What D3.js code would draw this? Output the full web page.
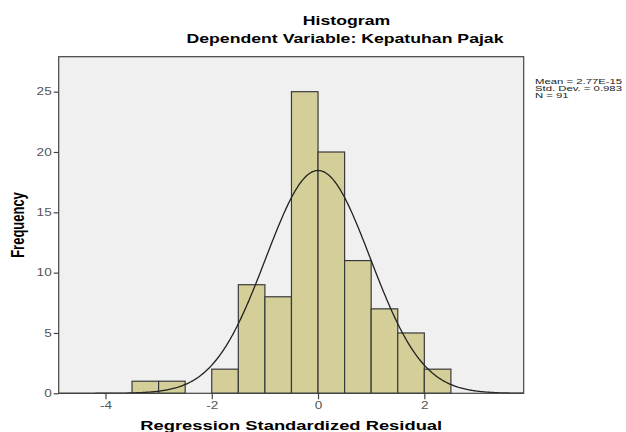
<!DOCTYPE html>
<html>
<head>
<meta charset="utf-8">
<script src="https://cdn.jsdelivr.net/npm/d3@7"></script>
<style>
  body { margin: 0; background: #fff; }
  text { font-family: "Liberation Sans", Arial, sans-serif; }
</style>
</head>
<body>
<svg id="chart" width="626" height="432"></svg>
<script>
// bins of 0.5 width, start edges
let binStarts = [-3.5, -3.0, -2.5, -2.0, -1.5, -1.0, -0.5, 0.0, 0.5, 1.0, 1.5, 2.0]
let binCounts = [1, 1, 0, 2, 9, 8, 25, 20, 11, 7, 5, 2]
let binWidth = 0.5
let xTicks = [-4, -2, 0, 2]
let yTicks = [0, 5, 10, 15, 20, 25]
let statLines = ["Mean = 2.77E-15", "Std. Dev. = 0.983", "N = 91"]
let mean = 2.77e-15, sd = 0.983, n = 91

let svg = d3.select("#chart")
let pLeft = 58.7, pRight = 523.7, pTop = 56.7, pBottom = 393.3
let sx = 1.36  // the source picture is stretched sideways

let x = d3.scaleLinear().domain([-4.88, 3.87]).range([pLeft, pRight])
let y = d3.scaleLinear().domain([0, 27.9]).range([pBottom, pTop])

svg.append("rect")
    .attr("x", pLeft).attr("y", pTop)
    .attr("width", pRight - pLeft).attr("height", pBottom - pTop)
    .attr("fill", "#f0f0f0")

svg.selectAll("rect.bar")
    .data(binStarts.map((s, i) => ({s: s, c: binCounts[i]})).filter(d => d.c > 0))
    .enter()
    .append("rect")
    .attr("class", "bar")
    .attr("x", d => x(d.s))
    .attr("y", d => y(d.c))
    .attr("width", d => x(d.s + binWidth) - x(d.s))
    .attr("height", d => y(0) - y(d.c))
    .attr("fill", "#d4cf98")
    .attr("stroke", "#3a3a3a")
    .attr("stroke-width", 1.2)

// fitted normal curve from the reported stats
let curve = d3.range(-4.88, 3.87, 0.02).map(v => [v, n * binWidth / (sd * Math.sqrt(2 * Math.PI)) * Math.exp(-0.5 * ((v - mean) / sd) ** 2)])
svg.append("path")
    .attr("d", d3.line().x(d => x(d[0])).y(d => y(d[1]))(curve))
    .attr("fill", "none")
    .attr("stroke", "#222")
    .attr("stroke-width", 1.3)

svg.append("rect")
    .attr("x", pLeft).attr("y", pTop)
    .attr("width", pRight - pLeft).attr("height", pBottom - pTop)
    .attr("fill", "none")
    .attr("stroke", "#444")
    .attr("stroke-width", 1.2)

let xAxis = svg.append("g")
    .attr("transform", `translate(0,${pBottom})`)
    .call(d3.axisBottom(x).tickValues(xTicks).tickSize(6).tickFormat(d3.format("d")))
let yAxis = svg.append("g")
    .attr("transform", `translate(${pLeft},0)`)
    .call(d3.axisLeft(y).tickValues(yTicks).tickSize(5).tickPadding(2))
;[xAxis, yAxis].forEach(a => {
    a.select(".domain").remove()
    a.selectAll("line").attr("stroke", "#444").attr("stroke-width", 1.2)
    a.selectAll("text").attr("fill", "#555").style("font-size", "10px")
        .attr("x", function() { return +d3.select(this).attr("x") / sx })
        .attr("transform", `scale(${sx},1)`)
})
xAxis.selectAll("text").text(d => d < 0 ? "-" + Math.abs(d) : d)

let label = (tx, ty, str, size, anchor) => svg.append("text")
    .attr("transform", `translate(${tx},${ty}) scale(${sx},1)`)
    .attr("text-anchor", anchor || "middle")
    .style("font-size", size + "px")
    .style("font-weight", "bold")
    .text(str)

label(346.5, 25, "Histogram", 13)
label(345, 43, "Dependent Variable: Kepatuhan Pajak", 13)
label((pLeft + pRight) / 2, 430, "Regression Standardized Residual", 13.5)

svg.append("text")
    .attr("transform", `translate(24,225) rotate(-90) scale(1,${sx})`)
    .attr("text-anchor", "middle")
    .style("font-size", "13px").style("font-weight", "bold")
    .text("Frequency")

svg.selectAll("text.stat")
    .data(statLines)
    .enter()
    .append("text")
    .attr("class", "stat")
    .attr("transform", (d, i) => `translate(535,${84 + i * 7.2}) scale(1.62,1)`)
    .style("font-size", "7px")
    .attr("fill", "#222")
    .text(d => d)
</script>
</body>
</html>
